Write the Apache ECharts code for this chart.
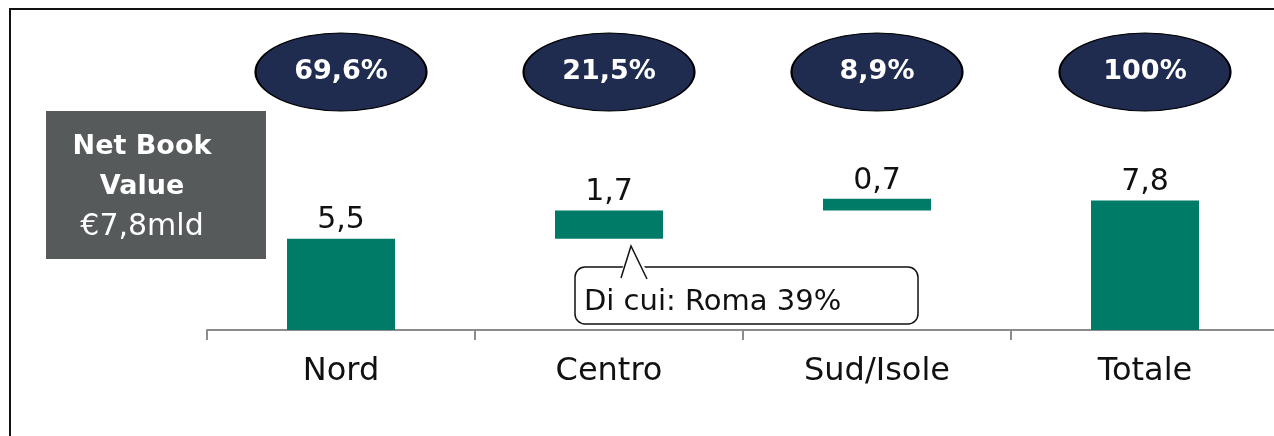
<!DOCTYPE html>
<html>
<head>
<meta charset="utf-8">
<script src="https://cdn.jsdelivr.net/npm/echarts@6/dist/echarts.min.js"></script>
<style>
    html, body { margin: 0; padding: 0; background: #fff; }
    #chart { width: 1274px; height: 436px; }
</style>
</head>
<body>
<div id="chart"></div>
<script>
// data
const categories = ['Nord', 'Centro', 'Sud/Isole', 'Totale'];
const values = [5.5, 1.7, 0.7, 7.8];
const shares = ['69,6%', '21,5%', '8,9%', '100%'];
const boxValue = '€7,8mld';
const noteText = 'Di cui: Roma 39%';

const FONT = '"DejaVu Sans", sans-serif';
const GREEN = '#007B67';
const NAVY = '#1F2C50';

// waterfall bases: running total, last bar starts from zero
let run = 0;
const bases = values.map(function (v, i) {
    if (i === values.length - 1) return 0;
    const b = run;
    run += v;
    return b;
});

const fmt = function (p) { return String(p.value).replace('.', ','); };

let mychart = echarts.init(document.getElementById('chart'), null, { renderer: 'canvas' });

const option = {
    animation: false,
    grid: [
        { left: 207, width: 1072, top: 164, height: 166, outerBoundsMode: 'none' },
        { left: 207, width: 1072, top: 33, height: 78, outerBoundsMode: 'none' }
    ],
    xAxis: [
        {
            type: 'category',
            gridIndex: 0,
            data: categories,
            axisLine: { lineStyle: { color: '#8c8c8c', width: 2 } },
            axisTick: { show: true, length: 10, lineStyle: { color: '#8c8c8c', width: 2 } },
            axisLabel: { color: '#111', fontSize: 32, fontFamily: FONT, margin: 26 }
        },
        {
            type: 'category',
            gridIndex: 1,
            data: categories,
            show: false
        }
    ],
    yAxis: [
        { type: 'value', gridIndex: 0, min: 0, max: 10, show: false },
        { type: 'value', gridIndex: 1, min: -1, max: 1, show: false }
    ],
    series: [
        {
            name: 'base',
            type: 'bar',
            stack: 'wf',
            barWidth: 108,
            itemStyle: { color: 'transparent' },
            silent: true,
            data: bases
        },
        {
            name: 'value',
            type: 'bar',
            stack: 'wf',
            barWidth: 108,
            itemStyle: { color: GREEN },
            label: {
                show: true,
                position: 'top',
                distance: 3,
                color: '#111',
                fontSize: 30,
                fontFamily: FONT,
                formatter: fmt
            },
            data: values
        },
        {
            name: 'share',
            type: 'scatter',
            xAxisIndex: 1,
            yAxisIndex: 1,
            symbol: 'circle',
            symbolSize: [171, 78],
            itemStyle: { color: NAVY, opacity: 1, borderColor: '#000', borderWidth: 1.5 },
            label: {
                show: true,
                position: 'inside',
                color: '#fff',
                fontSize: 27,
                fontWeight: 'bold',
                fontFamily: FONT,
                formatter: function (p) { return shares[p.dataIndex]; }
            },
            data: shares.map(function () { return 0; })
        }
    ],
    graphic: [
        {
            // outer frame
            type: 'rect',
            shape: { x: 10, y: 9, width: 1300, height: 500 },
            style: { fill: 'none', stroke: '#111', lineWidth: 2 },
            silent: true
        },
        {
            type: 'rect',
            shape: { x: 46, y: 111, width: 220, height: 148 },
            style: { fill: '#575A5B' }
        },
        {
            type: 'text',
            x: 142,
            y: 187,
            style: {
                text: '{b|Net Book}\n{b|Value}\n{n|' + boxValue + '}',
                align: 'center',
                verticalAlign: 'middle',
                fill: '#fff',
                rich: {
                    b: { fontSize: 27, fontWeight: 'bold', fontFamily: FONT, fill: '#fff', lineHeight: 40 },
                    n: { fontSize: 30, fontFamily: FONT, fill: '#fff', lineHeight: 40 }
                }
            }
        },
        {
            // callout box
            type: 'rect',
            shape: { x: 575, y: 267, width: 343, height: 57, r: 10 },
            style: { fill: '#fff', stroke: '#111', lineWidth: 1.5 }
        },
        {
            type: 'polygon',
            shape: { points: [[622, 269], [631, 247], [646, 269]] },
            style: { fill: '#fff' }
        },
        {
            type: 'polyline',
            shape: { points: [[621, 278], [631, 246], [647, 279]] },
            style: { fill: 'none', stroke: '#111', lineWidth: 1.5 }
        },
        {
            type: 'text',
            x: 584,
            y: 302,
            style: {
                text: noteText,
                fontSize: 29,
                fontFamily: FONT,
                fill: '#111',
                verticalAlign: 'middle'
            }
        }
    ]
};

mychart.setOption(option);
</script>
</body>
</html>
